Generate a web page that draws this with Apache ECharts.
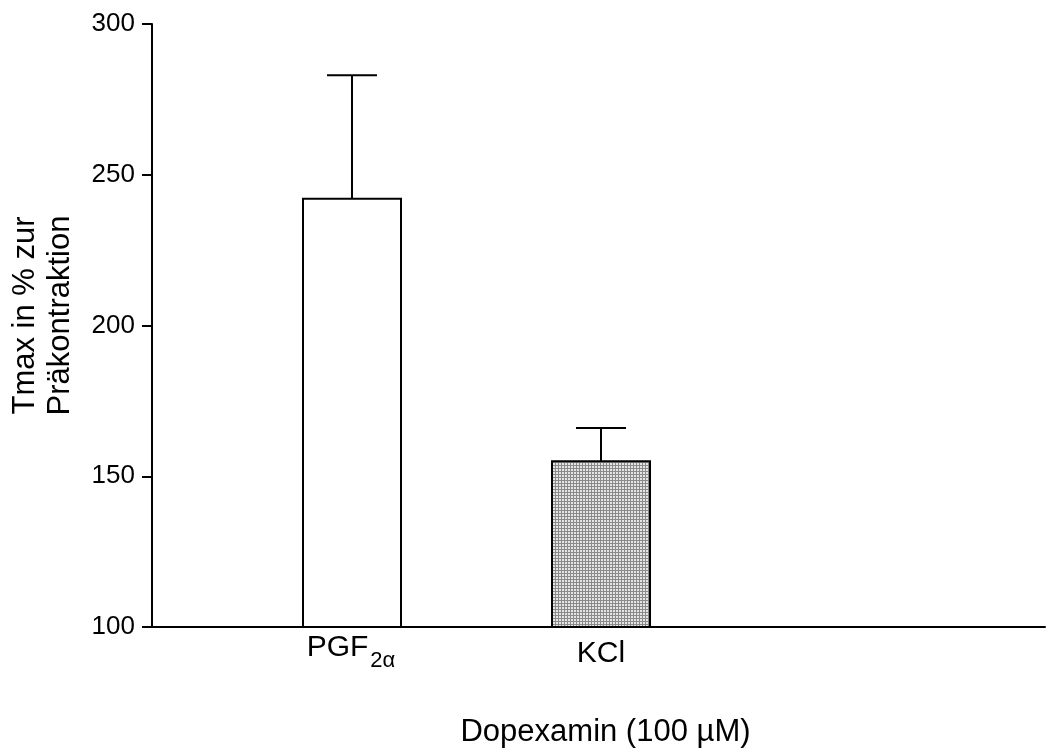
<!DOCTYPE html>
<html>
<head>
<meta charset="utf-8">
<script src="https://cdn.jsdelivr.net/npm/echarts@6/dist/echarts.min.js"></script>
<style>
  html, body { margin: 0; padding: 0; background: #fff; }
  #chart { width: 1046px; height: 753px; }
</style>
</head>
<body>
<div id="chart"></div>
<script>
// groups and values
var categories = ['PGF', 'KCl'];
var subscripts = ['2α', ''];
var positions = [1, 2];
var means = [242, 155];
var errors = [41, 11];
var yTicks = [100, 150, 200, 250, 300];

// stippled fill for the KCl bar
function stipple() {
  var c = document.createElement('canvas');
  c.width = 3; c.height = 3;
  var ctx = c.getContext('2d');
  ctx.fillStyle = '#e4e4e4';
  ctx.fillRect(0, 0, 3, 3);
  ctx.fillStyle = '#8a8a8a';
  ctx.fillRect(0, 0, 3, 1);
  ctx.fillRect(0, 0, 1, 3);
  return c;
}
var fills = ['#ffffff', { image: stipple(), repeat: 'repeat' }];

var data = categories.map(function (c, i) {
  return [positions[i], means[i], errors[i]];
});

var chart = echarts.init(document.getElementById('chart'));
var font = 'Liberation Sans, Arial, sans-serif';

chart.setOption({
  animation: false,
  grid: { left: 152, right: 1, top: 24, bottom: 125 },
  xAxis: {
    type: 'value',
    min: 0.1968,
    max: 3.783,
    name: 'Dopexamin (100 µM)',
    nameLocation: 'middle',
    nameGap: 90,
    nameTextStyle: { fontFamily: font, fontSize: 31, color: '#000', padding: [0, 0, 0, 14] },
    axisLine: { show: true, onZero: false, lineStyle: { color: '#000', width: 2 } },
    axisTick: { show: false },
    axisLabel: { show: false },
    splitLine: { show: false }
  },
  yAxis: {
    type: 'value',
    min: 100,
    max: 300,
    interval: 50,
    name: 'Tmax in % zur\nPräkontraktion',
    nameLocation: 'middle',
    nameRotate: 90,
    nameGap: 74,
    nameTextStyle: { fontFamily: font, fontSize: 31, color: '#000', lineHeight: 35, padding: [0, 0, 0, 20] },
    axisLine: { show: true, lineStyle: { color: '#000', width: 2 } },
    axisTick: { show: true, length: 10, lineStyle: { color: '#000', width: 2 } },
    axisLabel: {
      fontFamily: font, fontSize: 26, color: '#000', margin: 17,
      formatter: function (v) { return yTicks.indexOf(v) >= 0 ? String(v) : ''; }
    },
    splitLine: { show: false }
  },
  series: [{
    type: 'custom',
    data: data,
    clip: false,
    renderItem: function (params, api) {
      var i = params.dataIndex;
      var x = api.value(0);
      var m = api.value(1);
      var e = api.value(2);
      var base = api.coord([x, 100]);
      var top = api.coord([x, m]);
      var errTop = api.coord([x, m + e]);
      var halfW = 49;
      var capHalf = 25;
      var hasSub = subscripts[i] !== '';
      var label = '{m|' + categories[i] + '}' + (hasSub ? '{s|' + subscripts[i] + '}' : '');
      return {
        type: 'group',
        children: [
          {
            type: 'line',
            shape: { x1: top[0], y1: top[1], x2: errTop[0], y2: errTop[1] },
            style: { stroke: '#000', lineWidth: 2 }
          },
          {
            type: 'line',
            shape: { x1: errTop[0] - capHalf, y1: errTop[1], x2: errTop[0] + capHalf, y2: errTop[1] },
            style: { stroke: '#000', lineWidth: 2 }
          },
          {
            type: 'rect',
            shape: { x: top[0] - halfW, y: top[1], width: halfW * 2, height: base[1] - top[1] },
            style: { fill: fills[i], stroke: '#000', lineWidth: 2 }
          },
          {
            type: 'text',
            x: base[0] - (hasSub ? 1 : 0),
            y: base[1] + (hasSub ? 6 : 12),
            style: {
              text: label,
              align: 'center',
              verticalAlign: 'top',
              rich: {
                m: { fontFamily: font, fontSize: 30, color: '#000', verticalAlign: 'top' },
                s: { fontFamily: font, fontSize: 22, color: '#000', verticalAlign: 'top', padding: [17, 0, 0, 2] }
              }
            }
          }
        ]
      };
    }
  }]
});
</script>
</body>
</html>
